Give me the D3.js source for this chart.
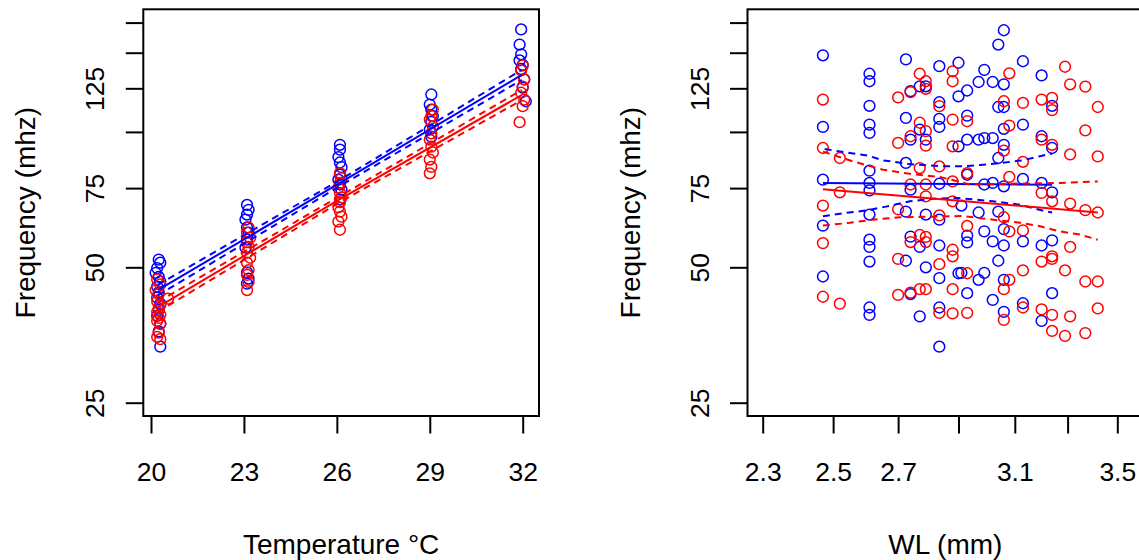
<!DOCTYPE html>
<html><head><meta charset="utf-8">
<script src="https://cdn.jsdelivr.net/npm/d3@7"></script>
<style>body{margin:0;background:#fff}svg{display:block}text{font-family:"Liberation Sans",Arial,sans-serif}</style>
</head><body><svg id="c" width="1139" height="560"></svg>
<script>
// ---------- data ----------
const yTicks = [25, 50, 75, 100, 125, 150, 175];
const yTickLabels = ["25", "50", "75", "", "125", "", ""];
const tempTicks = [20, 23, 26, 29, 32];
const tempTickLabels = ["20", "23", "26", "29", "32"];
const wlTicks = [2.3, 2.5, 2.7, 2.9, 3.1, 3.3, 3.5];
const wlTickLabels = ["2.3", "2.5", "2.7", "", "3.1", "", "3.5"];

// left panel: temperature vs frequency
const tempBlue = [20.25,20.3,20.2,20.15,20.25,20.3,20.2,20.25,20.2,20.3,20.25,20.2,20.3,20.25,20.3,
  23.1,23.15,23.1,23.05,23.1,23.15,23.1,23.05,23.1,23.15,23.1,
  26.1,26.1,26.05,26.1,26.15,26.1,26.05,26.1,26.15,26.1,
  29.05,29.0,29.05,29.1,29.05,29.0,29.05,
  31.95,31.9,31.95,31.9,32.0,31.95,32.05,32.0,32.1];
const freqBlueT = [52.0,51.2,49.8,48.6,47.6,46.5,45.3,44.0,42.8,41.5,40.2,39.0,37.5,36.0,33.3,
  68.8,67.1,65.5,63.8,61.3,59.7,57.6,55.3,48.7,47.2,46.0,
  93.6,91.3,87.9,85.5,83.5,80.3,78.3,76.4,74.4,70.7,
  121.1,115.0,112.1,108.5,105.3,101.2,97.6,
  169.0,156.4,148.8,144.2,141.0,138.0,130.8,125.5,117.0];
const tempRed = [20.2,20.3,20.15,20.25,20.55,20.2,20.3,20.25,20.2,20.3,20.25,20.2,20.3,20.25,20.2,20.3,
  23.15,23.1,23.2,23.1,23.15,23.1,23.2,23.1,23.15,23.1,23.15,23.1,
  26.1,26.15,26.1,26.05,26.1,26.15,26.1,26.05,26.1,26.15,26.05,26.1,
  29.1,29.05,29.0,29.1,29.05,29.0,29.05,29.1,29.0,29.05,29.0,
  32.0,31.95,32.05,32.0,31.95,32.05,32.0,31.9];
const freqRedT = [47.0,45.8,44.5,43.6,42.6,42.0,41.2,40.5,39.8,39.2,38.6,38.0,37.4,35.8,35.0,34.6,
  61.3,59.7,58.2,56.9,55.5,53.9,52.5,51.2,49.3,48.1,46.4,44.5,
  81.0,78.9,77.0,75.1,73.2,71.5,69.8,68.0,66.5,64.8,63.2,60.6,
  112.1,108.5,106.5,102.7,99.3,96.1,92.7,90.0,86.8,83.6,80.9,
  140.5,137.0,130.8,126.1,122.2,118.0,114.1,105.1];

// fitted lines and bands (left)
const tempFitX = [20.22, 26.1, 31.97];
const blueFitT = [44.5, 77.0, 133.9];
const blueHiT = [45.7, 78.2, 137.4];
const blueLoT = [43.3, 75.8, 130.5];
const redFitT = [40.8, 70.9, 120.8];
const redHiT = [41.9, 72.0, 124.0];
const redLoT = [39.8, 69.8, 117.7];

// right panel: wing length vs frequency
const wlBlue = [2.47,2.61,2.61,2.725,2.835,2.90,2.77,2.74,2.79,2.90,2.61,2.835,2.725,2.835,2.835,2.47,2.61,2.61,2.77,2.79,2.74,2.90,2.725,2.61,2.47,2.61,2.61,2.74,2.835,
  2.61,2.725,2.79,2.835,2.47,2.74,2.61,2.61,2.77,2.835,2.61,2.725,2.79,2.47,2.835,2.90,2.74,2.61,2.61,2.835,2.77,2.835,
  3.06,3.04,3.13,2.99,2.97,3.02,3.06,3.20,2.93,3.04,3.06,3.24,2.93,3.06,3.13,3.20,2.93,2.97,2.99,3.02,3.06,3.24,3.04,2.93,3.02,2.99,3.06,3.13,3.20,3.24,
  2.91,2.97,3.04,2.93,2.93,2.99,3.06,3.02,3.06,3.13,3.20,3.24,3.04,2.91,2.99,2.97,3.06,2.93,3.02,3.13,3.24,3.06,3.20];
const freqBlueW = [148,134.7,129.6,144.9,140.0,142.5,126.3,123.2,126.3,120.0,114.3,116.4,107.4,106.9,102.6,102.6,103.8,99.5,101.2,96.1,96.1,92.9,85.3,82.0,78.3,77.0,74.1,74.4,76.7,
  65.5,66.5,65.5,63.8,61.9,58.5,57.6,55.5,55.5,55.9,51.5,51.7,50.0,47.7,47.3,48.5,43.6,40.7,39.2,40.7,38.9,33.3,
  168.3,156.4,143.6,137.4,129.1,129.1,127.6,133.5,123.6,113.6,113.6,114.3,108.7,101.6,103.8,97.8,96.1,96.1,96.9,96.9,93.6,92.1,87.5,80.3,77.0,76.4,75.7,78.6,77.0,73.4,
  68.6,66.2,66.5,58.8,56.8,60.1,60.8,57.1,55.9,57.1,55.9,57.4,51.7,48.6,48.6,46.9,46.9,43.8,42.3,41.6,43.8,39.8,38.0];
const wlRed = [2.77,2.88,2.88,2.79,2.79,2.74,2.70,2.47,2.835,2.77,2.79,2.74,2.88,2.70,2.79,2.88,2.47,2.52,2.77,2.835,2.88,2.79,2.74,2.52,2.79,
  2.47,2.70,2.88,2.835,2.47,2.74,2.77,2.79,2.79,2.70,2.88,2.88,2.835,2.47,2.52,2.70,2.74,2.77,2.79,2.88,2.835,2.88,
  3.08,3.29,3.31,3.37,3.06,3.13,3.20,3.24,3.24,3.42,2.93,3.08,3.37,3.20,3.24,3.06,3.13,3.31,3.42,2.93,3.08,3.20,
  3.24,3.31,3.37,3.42,3.06,2.93,3.08,3.13,3.31,3.20,3.24,3.24,3.13,3.29,2.93,3.08,3.37,3.42,3.06,3.13,3.20,3.42,2.93,3.06,3.24,3.31,3.24,3.29,3.37];
const freqRedW = [134.7,136.4,129.6,129.6,124.7,122.6,119.3,118.0,114.1,104.8,100.4,97.8,106.5,94.5,93.2,92.9,92.1,87.5,83.1,83.8,77.6,76.4,76.4,73.4,71.9,
  68.6,67.3,70.1,65.2,56.6,56.9,59.0,58.4,56.9,52.2,54.7,52.9,50.8,43.0,41.5,43.4,43.9,44.7,44.7,44.7,39.6,39.5,
  135.0,139.6,127.6,126.1,117.0,116.0,118.0,119.0,111.8,113.6,105.6,103.3,100.8,96.1,93.6,90.9,85.8,89.1,88.2,81.0,79.4,73.2,
  70.1,69.3,67.0,66.2,64.6,61.8,60.1,60.4,55.5,51.5,52.9,52.2,49.2,49.2,48.5,46.9,46.5,46.5,44.7,40.7,40.3,40.5,39.6,38.2,39.2,38.9,36.1,35.2,35.7];

// fitted lines and bands (right)
const wlBlueFitX = [2.47, 3.24];
const blueFitW = [77.0, 76.3];
const wlBlueHiX = [2.475, 2.55, 2.605, 2.65, 2.738, 2.837, 2.916, 2.975, 3.057, 3.13, 3.194, 3.24];
const blueHiW = [91.6, 89.8, 88.6, 86.5, 84.8, 83.9, 83.9, 84.4, 85.4, 86.5, 88.3, 89.5];
const wlBlueLoX = [2.47, 2.52, 2.602, 2.665, 2.738, 2.814, 2.90, 3.021, 3.119, 3.22, 3.24];
const blueLoW = [64.9, 65.8, 66.9, 68.3, 70.1, 71.0, 71.3, 70.1, 68.9, 66.5, 66.2];
const wlRedFitX = [2.47, 3.42];
const redFitW = [74.6, 66.2];
const wlRedHiX = [2.47, 2.559, 2.652, 2.738, 2.837, 2.94, 3.082, 3.27, 3.42];
const redHiW = [90.4, 86.0, 82.4, 80.7, 79.4, 76.4, 76.7, 77.0, 77.6];
const wlRedLoX = [2.47, 2.55, 2.621, 2.706, 2.814, 2.916, 2.975, 3.119, 3.194, 3.27, 3.349, 3.42];
const redLoW = [61.9, 62.8, 63.8, 64.6, 64.8, 65.0, 64.3, 62.8, 61.7, 60.1, 59.1, 57.6];

// ---------- drawing ----------
const svg = d3.select("#c");
const BLUE = "#0000FF", RED = "#FF0000";
const plotTop = 9.3, plotBottom = 416;
const FS = 26.5, TFS = 28;
const yScale = d3.scaleLog().domain([25, 175]).range([402.7, 22.6]);

function panel(opt) {
  const g = svg.append("g");
  const x = opt.x, y = yScale;
  // y axis
  const ya = d3.axisLeft(y).tickValues(yTicks).tickSize(17.5).tickFormat((d, i) => yTickLabels[i]);
  const yg = g.append("g").attr("transform", `translate(${opt.x0},0)`).call(ya);
  yg.select(".domain").remove();
  yg.selectAll(".tick line").attr("stroke", "#000").attr("stroke-width", 2);
  yg.selectAll(".tick text").attr("transform", "rotate(-90)").attr("x", 0).attr("y", -39)
    .attr("dy", 0).attr("text-anchor", "middle").attr("font-size", FS).attr("fill", "#000");
  // x axis
  const xa = d3.axisBottom(x).tickValues(opt.ticks).tickSize(17.5).tickFormat((d, i) => opt.labels[i]);
  const xg = g.append("g").attr("transform", `translate(0,${plotBottom})`).call(xa);
  xg.select(".domain").remove();
  xg.selectAll(".tick line").attr("stroke", "#000").attr("stroke-width", 2);
  xg.selectAll(".tick text").attr("y", 65).attr("dy", 0).attr("font-size", FS).attr("fill", "#000");
  // titles
  g.append("text")
    .attr("transform", `translate(${opt.x0 - 108},${(plotTop + plotBottom) / 2}) rotate(-90)`)
    .attr("text-anchor", "middle").attr("font-size", TFS).text("Frequency (mhz)");
  g.append("text").attr("x", (opt.x0 + opt.x1) / 2).attr("y", 554).attr("text-anchor", "middle")
    .attr("font-size", TFS).text(opt.title);
  // points
  const pts = g.append("g").attr("fill", "none").attr("stroke-width", 1.5);
  opt.blueX.forEach((v, i) => pts.append("circle").attr("cx", x(v)).attr("cy", y(opt.blueY[i])).attr("r", 5.4).attr("stroke", BLUE));
  opt.redX.forEach((v, i) => pts.append("circle").attr("cx", x(v)).attr("cy", y(opt.redY[i])).attr("r", 5.4).attr("stroke", RED));
  // lines
  const line = d3.line().x(d => x(d[0])).y(d => y(d[1]));
  opt.lines.forEach(L => {
    g.append("path").attr("d", line(L.xs.map((v, i) => [v, L.ys[i]])))
      .attr("fill", "none").attr("stroke", L.c).attr("stroke-width", 2)
      .attr("stroke-dasharray", L.dash ? "7,5" : null);
  });
  // box
  g.append("rect").attr("x", opt.x0).attr("y", plotTop).attr("width", opt.x1 - opt.x0).attr("height", plotBottom - plotTop)
    .attr("fill", "none").attr("stroke", "#000").attr("stroke-width", 2);
}

panel({
  x0: 143.3, x1: 539,
  x: d3.scaleLinear().domain([20, 32]).range([151, 522.7]),
  ticks: tempTicks, labels: tempTickLabels, title: "Temperature °C",
  blueX: tempBlue, blueY: freqBlueT, redX: tempRed, redY: freqRedT,
  lines: [
    {xs: tempFitX, ys: blueFitT, c: BLUE}, {xs: tempFitX, ys: blueHiT, c: BLUE, dash: 1}, {xs: tempFitX, ys: blueLoT, c: BLUE, dash: 1},
    {xs: tempFitX, ys: redFitT, c: RED}, {xs: tempFitX, ys: redHiT, c: RED, dash: 1}, {xs: tempFitX, ys: redLoT, c: RED, dash: 1}
  ]
});
panel({
  x0: 747.5, x1: 1143.2,
  x: d3.scaleLog().domain([2.3, 3.5]).range([762.7, 1117.3]),
  ticks: wlTicks, labels: wlTickLabels, title: "WL (mm)",
  blueX: wlBlue, blueY: freqBlueW, redX: wlRed, redY: freqRedW,
  lines: [
    {xs: wlBlueFitX, ys: blueFitW, c: BLUE}, {xs: wlBlueHiX, ys: blueHiW, c: BLUE, dash: 1}, {xs: wlBlueLoX, ys: blueLoW, c: BLUE, dash: 1},
    {xs: wlRedFitX, ys: redFitW, c: RED}, {xs: wlRedHiX, ys: redHiW, c: RED, dash: 1}, {xs: wlRedLoX, ys: redLoW, c: RED, dash: 1}
  ]
});
</script></body></html>
